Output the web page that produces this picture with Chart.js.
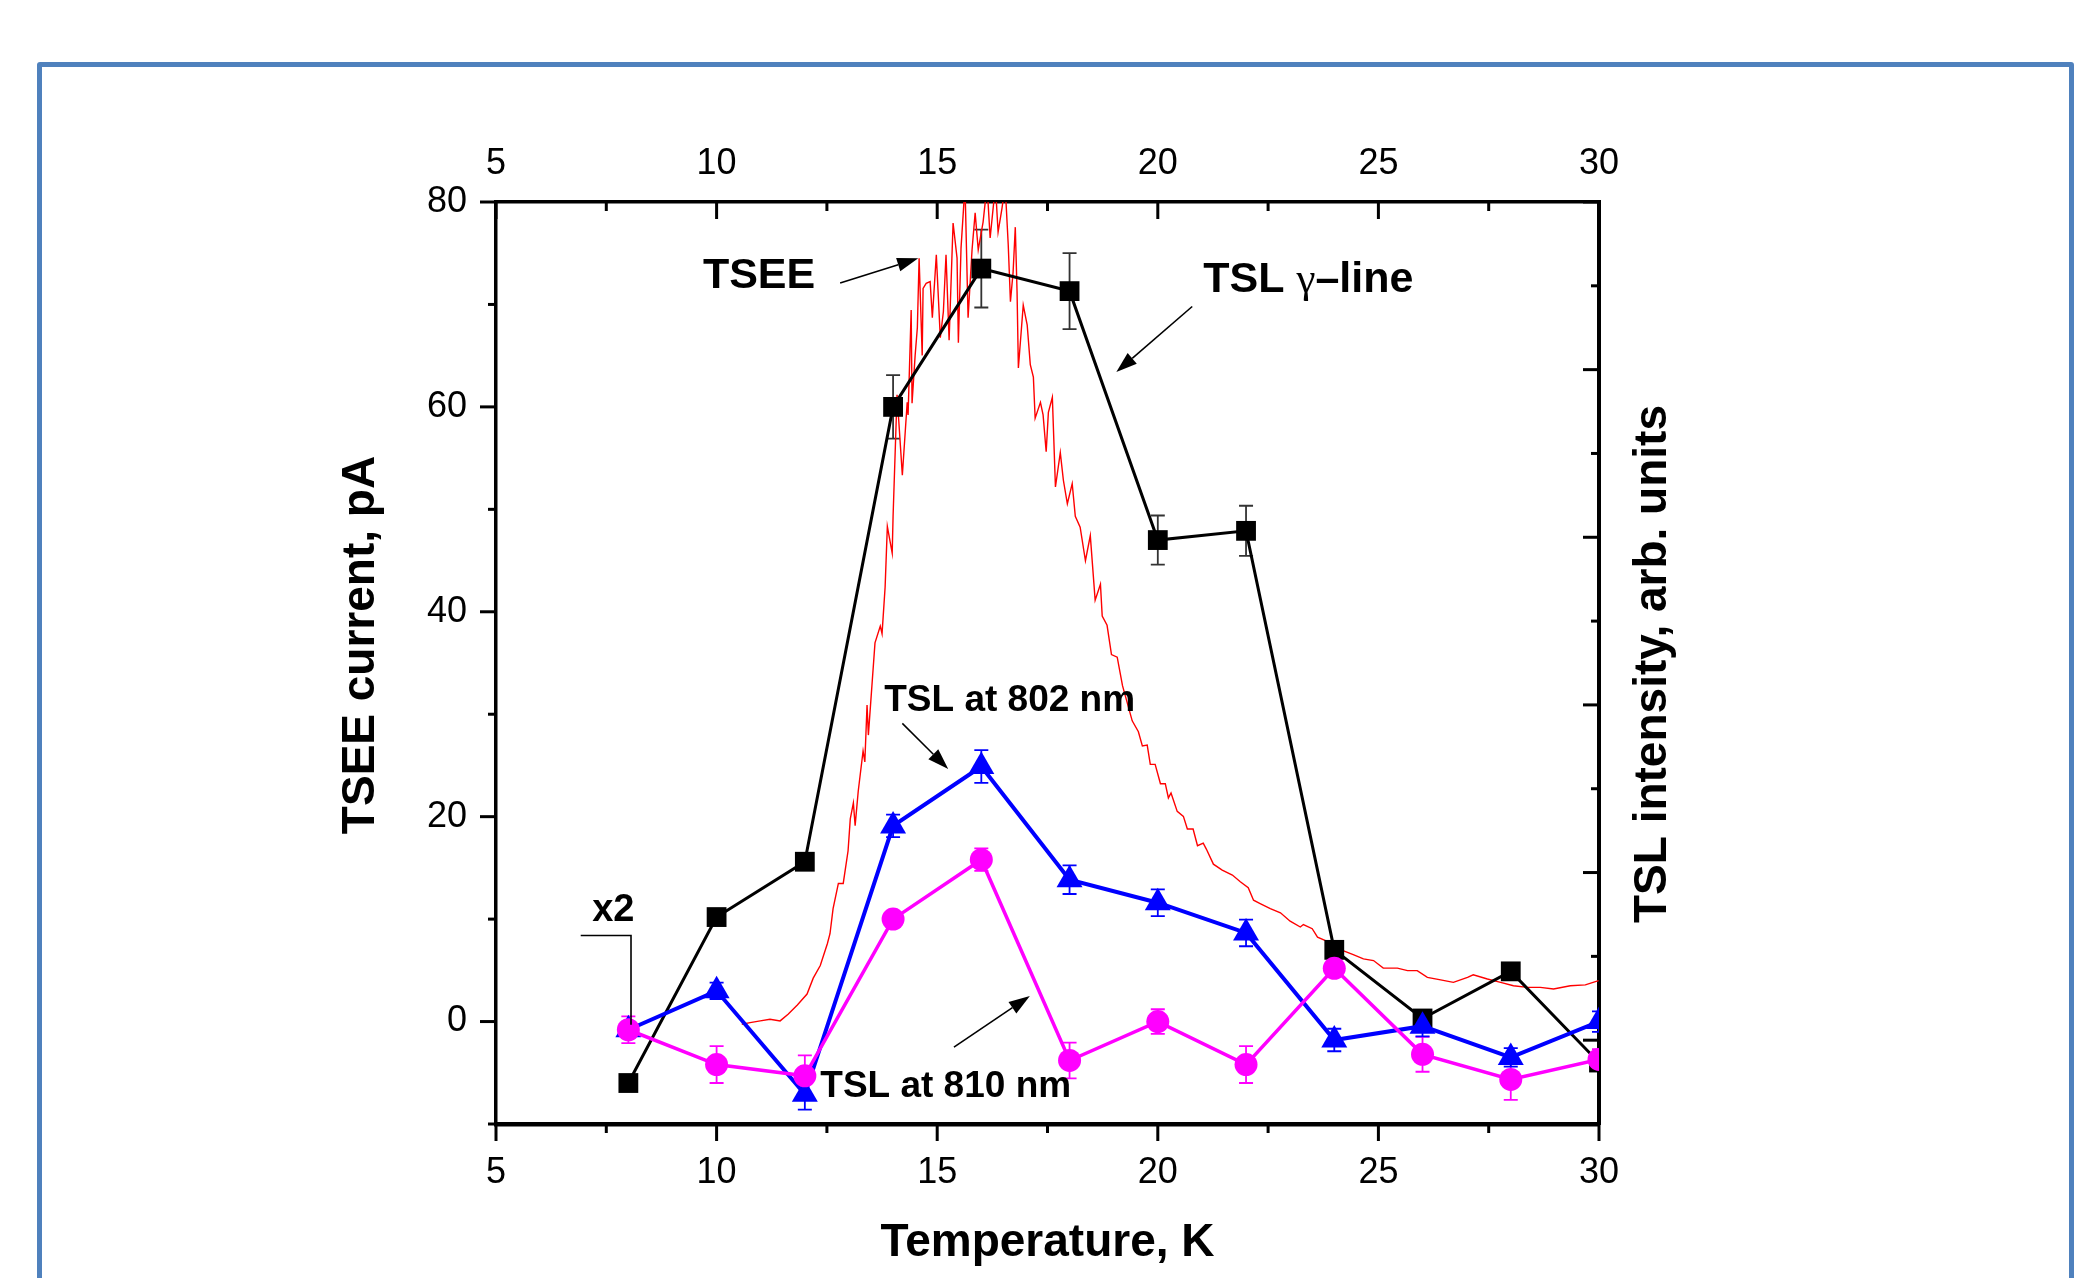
<!DOCTYPE html>
<html>
<head>
<meta charset="utf-8">
<title>TSEE and TSL versus temperature</title>
<script src="https://cdn.jsdelivr.net/npm/chart.js@4.4.1/dist/chart.umd.min.js"></script>
<style>
    html, body { margin: 0; padding: 0; background: #fff; }
    #wrap { position: relative; width: 2079px; height: 1278px; overflow: hidden; }
    #frame { position: absolute; left: 37px; top: 62px; width: 2027px; height: 1400px; border: 5px solid #4f81bd; border-radius: 3px; }
    #chart { position: absolute; left: 0; top: 0; }
</style>
</head>
<body>
<div id="wrap">
    <div id="frame"></div>
    <canvas id="chart" width="2079" height="1278"></canvas>
</div>
<script>
const FONT = '"Liberation Sans", Arial, sans-serif';

// measured points, temperature in K
const TEMPS = [8, 10, 12, 14, 16, 18, 20, 22, 24, 26, 28, 30];
const TSEE = [-6.0, 10.2, 15.6, 60.0, 73.5, 71.3, 47.0, 47.9, 7.0, 0.3, 4.9, -4.0];
const TSEE_ERR = [0, 0, 0, 3.1, 3.8, 3.7, 2.4, 2.45, 0, 0, 0, 0];
const TSL802 = [-0.8, 3.0, -7.1, 19.1, 24.9, 13.85, 11.6, 8.65, -1.8, -0.45, -3.5, 0.0];
const TSL802_ERR = [0.8, 0.8, 1.5, 1.1, 1.6, 1.4, 1.3, 1.3, 1.1, 1.0, 0.9, 1.0];
const TSL810 = [-0.8, -4.2, -5.3, 10.0, 15.8, -3.8, 0.0, -4.2, 5.2, -3.2, -5.65, -3.7];
const TSL810_ERR = [1.3, 1.8, 2.0, 0.5, 1.1, 1.75, 1.2, 1.8, 0.5, 1.7, 2.0, 1.0];

// TSL gamma-line glow curve (right axis, arb. units)
const GAMMA_T = [
    10.57, 10.76, 10.99, 11.21, 11.44, 11.62, 11.83, 12.05, 12.19, 12.35,
    12.51, 12.57, 12.64, 12.76, 12.87, 12.98, 13.03, 13.10, 13.14, 13.21,
    13.32, 13.36, 13.41, 13.44, 13.53, 13.59, 13.71, 13.75, 13.82, 13.87,
    13.98, 14.00, 14.09, 14.21, 14.32, 14.34, 14.41, 14.43, 14.50, 14.55,
    14.59, 14.66, 14.68, 14.75, 14.84, 14.89, 14.98, 15.07, 15.14, 15.20,
    15.27, 15.36, 15.45, 15.48, 15.54, 15.63, 15.70, 15.79, 15.86, 15.93,
    16.04, 16.13, 16.20, 16.32, 16.38, 16.47, 16.54, 16.61, 16.66, 16.72,
    16.77, 16.81, 16.84, 16.95, 17.04, 17.11, 17.18, 17.22, 17.34, 17.40,
    17.47, 17.52, 17.61, 17.68, 17.79, 17.86, 17.95, 18.06, 18.13, 18.24,
    18.36, 18.47, 18.58, 18.70, 18.74, 18.85, 18.95, 19.08, 19.20, 19.42,
    19.56, 19.65, 19.76, 19.83, 19.94, 20.06, 20.17, 20.24, 20.30, 20.44,
    20.58, 20.67, 20.80, 20.90, 21.03, 21.10, 21.26, 21.46, 21.69, 21.87,
    22.05, 22.17, 22.32, 22.55, 22.78, 23.00, 23.23, 23.30, 23.50, 23.62,
    23.84, 24.14, 24.43, 24.66, 24.89, 25.11, 25.43, 25.66, 25.88, 26.11,
    26.41, 26.70, 27.02, 27.15, 27.47, 27.77, 28.06, 28.38, 28.67, 28.97,
    29.35, 29.69, 29.99
];
const GAMMA_I = [
    0.19, 0.21, 0.23, 0.25, 0.23, 0.31, 0.42, 0.55, 0.74, 0.89,
    1.15, 1.27, 1.57, 1.87, 1.87, 2.26, 2.64, 2.83, 2.56, 2.97,
    3.45, 3.32, 4.00, 3.64, 4.30, 4.74, 4.94, 4.85, 5.41, 6.13,
    5.81, 6.25, 7.70, 6.74, 7.61, 7.46, 8.71, 7.60, 8.17, 8.50,
    9.33, 8.17, 8.97, 9.03, 9.05, 8.62, 9.37, 8.38, 8.69, 9.37,
    8.35, 9.75, 9.33, 8.32, 9.45, 10.20, 8.62, 9.43, 9.87, 9.43,
    9.76, 10.20, 9.57, 10.20, 9.64, 9.93, 10.20, 9.49, 8.81, 9.16,
    9.70, 8.93, 8.02, 8.77, 8.53, 8.06, 7.91, 7.42, 7.61, 7.46,
    7.02, 7.49, 7.67, 6.60, 7.01, 6.68, 6.40, 6.64, 6.25, 6.12,
    5.72, 6.02, 5.25, 5.44, 5.06, 4.95, 4.60, 4.57, 4.23, 3.81,
    3.68, 3.51, 3.52, 3.29, 3.29, 3.06, 3.06, 2.89, 2.95, 2.73,
    2.67, 2.52, 2.52, 2.32, 2.35, 2.28, 2.10, 2.03, 1.97, 1.89,
    1.82, 1.67, 1.63, 1.57, 1.52, 1.42, 1.35, 1.38, 1.33, 1.23,
    1.18, 1.08, 1.02, 0.97, 0.95, 0.86, 0.86, 0.83, 0.83, 0.75,
    0.72, 0.69, 0.75, 0.78, 0.73, 0.69, 0.65, 0.63, 0.63, 0.61,
    0.65, 0.66, 0.71
];

// axis ticks
const X_TICKS = [5, 10, 15, 20, 25, 30];
const X_MINOR = [7.5, 12.5, 17.5, 22.5, 27.5];
const Y_TICKS = [0, 20, 40, 60, 80];
const Y_MINOR = [-10, 10, 30, 50, 70];
const Y2_MAJOR = [0, 2, 4, 6, 8, 10];
const Y2_MINOR = [-1, 1, 3, 5, 7, 9];

const toPoints = (xs, ys) => xs.map((x, i) => ({ x: x, y: ys[i] }));

const errorBarPlugin = {
    id: "errorBars",
    beforeDatasetsDraw(chart) {
        const { ctx, chartArea } = chart;
        ctx.save();
        ctx.beginPath();
        ctx.rect(chartArea.left, chartArea.top, chartArea.right - chartArea.left, chartArea.bottom - chartArea.top);
        ctx.clip();
        chart.data.datasets.forEach((ds) => {
            if (!ds.errors) return;
            const xs = chart.scales[ds.xAxisID];
            const ys = chart.scales[ds.yAxisID];
            ctx.strokeStyle = ds.errorColor;
            ctx.lineWidth = 1.8;
            ds.data.forEach((p, i) => {
                const e = ds.errors[i];
                if (!e) return;
                const px = xs.getPixelForValue(p.x);
                const top = ys.getPixelForValue(p.y + e);
                const bot = ys.getPixelForValue(p.y - e);
                ctx.beginPath();
                ctx.moveTo(px, top); ctx.lineTo(px, bot);
                ctx.moveTo(px - 7, top); ctx.lineTo(px + 7, top);
                ctx.moveTo(px - 7, bot); ctx.lineTo(px + 7, bot);
                ctx.stroke();
            });
        });
        ctx.restore();
    }
};

function tickMarks(ctx, scale, values, len, side, area) {
    values.forEach((v) => {
        const p = scale.getPixelForValue(v);
        ctx.beginPath();
        if (side === "bottom") { ctx.moveTo(p, area.bottom); ctx.lineTo(p, area.bottom + len); }
        if (side === "top") { ctx.moveTo(p, area.top); ctx.lineTo(p, area.top + len); }
        if (side === "left") { ctx.moveTo(area.left, p); ctx.lineTo(area.left - len, p); }
        if (side === "right") { ctx.moveTo(area.right, p); ctx.lineTo(area.right - len, p); }
        ctx.stroke();
    });
}

function arrow(ctx, x0, y0, x1, y1) {
    const a = Math.atan2(y1 - y0, x1 - x0);
    const hl = 21, hw = 7;
    const bx = x1 - hl * Math.cos(a), by = y1 - hl * Math.sin(a);
    ctx.beginPath();
    ctx.moveTo(x0, y0); ctx.lineTo(bx, by);
    ctx.stroke();
    ctx.beginPath();
    ctx.moveTo(x1, y1);
    ctx.lineTo(bx + hw * Math.sin(a), by - hw * Math.cos(a));
    ctx.lineTo(bx - hw * Math.sin(a), by + hw * Math.cos(a));
    ctx.closePath();
    ctx.fill();
}

const decorPlugin = {
    id: "decor",
    afterDraw(chart) {
        const { ctx, chartArea: area, scales } = chart;
        const X = v => scales.x.getPixelForValue(v);
        const Y = v => scales.y.getPixelForValue(v);

        ctx.save();
        ctx.strokeStyle = "#000";
        ctx.fillStyle = "#000";
        ctx.lineWidth = 3;
        tickMarks(ctx, scales.x, X_TICKS, 17, "bottom", area);
        tickMarks(ctx, scales.x, X_MINOR, 9, "bottom", area);
        tickMarks(ctx, scales.xTop, X_TICKS, 17, "top", area);
        tickMarks(ctx, scales.xTop, X_MINOR, 9, "top", area);
        tickMarks(ctx, scales.y, Y_TICKS, 16, "left", area);
        tickMarks(ctx, scales.y, Y_MINOR, 8, "left", area);
        tickMarks(ctx, scales.y2, Y2_MAJOR, 16, "right", area);
        tickMarks(ctx, scales.y2, Y2_MINOR, 8, "right", area);

        // axis titles
        ctx.font = "bold 46px " + FONT;
        ctx.textAlign = "center";
        ctx.textBaseline = "middle";
        ctx.save();
        ctx.translate(area.left - 135, 645);
        ctx.rotate(-Math.PI / 2);
        ctx.fillText("TSEE current, pA", 0, 0);
        ctx.restore();
        ctx.save();
        ctx.translate(area.right + 54, 664);
        ctx.rotate(-Math.PI / 2);
        ctx.fillText("TSL intensity, arb. units", 0, 0);
        ctx.restore();
        ctx.textBaseline = "alphabetic";
        ctx.fillText("Temperature, K", (area.left + area.right) / 2, area.bottom + 132);

        // labels inside the plot
        ctx.textAlign = "left";
        ctx.font = "bold 43px " + FONT;
        ctx.fillText("TSEE", X(9.69), Y(71.6));

        let gx = X(21.03);
        const gy = Y(71.2);
        ctx.fillText("TSL ", gx, gy);
        gx += ctx.measureText("TSL ").width;
        ctx.font = "43px \"Liberation Serif\", serif";
        ctx.fillText("\u03B3", gx, gy);
        gx += ctx.measureText("\u03B3").width;
        ctx.font = "bold 43px " + FONT;
        ctx.fillText("\u2013line", gx, gy);

        ctx.font = "bold 37px " + FONT;
        ctx.fillText("TSL at 802 nm", X(13.80), Y(30.3));
        ctx.fillText("TSL at 810 nm", X(12.35), Y(-7.4));
        ctx.font = "bold 38px " + FONT;
        ctx.fillText("x2", X(7.18), Y(9.8));

        ctx.lineWidth = 1.6;
        arrow(ctx, X(12.80), Y(72.1), X(14.57), Y(74.5));
        arrow(ctx, X(20.78), Y(69.8), X(19.06), Y(63.4));
        arrow(ctx, X(14.21), Y(29.1), X(15.25), Y(24.65));
        arrow(ctx, X(15.38), Y(-2.5), X(17.10), Y(2.5));

        // x2 bracket
        ctx.beginPath();
        ctx.moveTo(X(6.92), Y(8.4));
        ctx.lineTo(X(8.06), Y(8.4));
        ctx.lineTo(X(8.06), Y(-0.3));
        ctx.stroke();
        ctx.restore();
    }
};

const tickFont = { family: FONT, size: 36 };

new Chart(document.getElementById("chart"), {
    type: "line",
    data: {
        datasets: [
            {
                label: "TSL at 810 nm",
                data: toPoints(TEMPS, TSL810),
                errors: TSL810_ERR,
                errorColor: "#ff00ff",
                borderColor: "#ff00ff",
                backgroundColor: "#ff00ff",
                borderWidth: 3.5,
                pointStyle: "circle",
                pointRadius: 11.5,
                pointBorderWidth: 0,
                order: 0,
                xAxisID: "x",
                yAxisID: "y"
            },
            {
                label: "TSL at 802 nm",
                data: toPoints(TEMPS, TSL802),
                errors: TSL802_ERR,
                errorColor: "#0000ff",
                borderColor: "#0000ff",
                backgroundColor: "#0000ff",
                borderWidth: 4,
                pointStyle: "triangle",
                pointRadius: 15,
                pointBorderWidth: 0,
                order: 1,
                xAxisID: "x",
                yAxisID: "y"
            },
            {
                label: "TSEE",
                data: toPoints(TEMPS, TSEE),
                errors: TSEE_ERR,
                errorColor: "#333333",
                borderColor: "#000000",
                backgroundColor: "#000000",
                borderWidth: 3,
                pointStyle: "rect",
                pointRadius: 14,
                pointBorderWidth: 0,
                order: 2,
                xAxisID: "x",
                yAxisID: "y"
            },
            {
                label: "TSL gamma-line",
                data: toPoints(GAMMA_T, GAMMA_I),
                borderColor: "#ff0000",
                borderWidth: 1.4,
                pointRadius: 0,
                order: 3,
                xAxisID: "x",
                yAxisID: "y2"
            }
        ]
    },
    options: {
        responsive: false,
        devicePixelRatio: 1,
        animation: false,
        events: [],
        layout: { padding: 0 },
        elements: { line: { tension: 0 } },
        plugins: {
            legend: { display: false },
            tooltip: { enabled: false }
        },
        scales: {
            x: {
                type: "linear",
                position: "bottom",
                min: 5,
                max: 30,
                afterBuildTicks: (s) => { s.ticks = X_TICKS.map(v => ({ value: v })); },
                afterFit: (s) => { s.height = 154; },
                grid: { display: true, drawOnChartArea: false, drawTicks: false },
                border: { display: true, color: "#000", width: 4.5 },
                ticks: { color: "#000", font: tickFont, padding: 27, maxRotation: 0 }
            },
            xTop: {
                type: "linear",
                position: "top",
                display: true,
                min: 5,
                max: 30,
                afterBuildTicks: (s) => { s.ticks = X_TICKS.map(v => ({ value: v })); },
                afterFit: (s) => { s.height = 202; },
                grid: { display: true, drawOnChartArea: false, drawTicks: false },
                border: { display: true, color: "#000", width: 3.5 },
                ticks: { color: "#000", font: tickFont, padding: 16, maxRotation: 0 }
            },
            y: {
                type: "linear",
                position: "left",
                min: -10,
                max: 80,
                afterBuildTicks: (s) => { s.ticks = Y_TICKS.map(v => ({ value: v })); },
                afterFit: (s) => { s.width = 496; },
                grid: { display: true, drawOnChartArea: false, drawTicks: false },
                border: { display: true, color: "#000", width: 3.5 },
                ticks: { color: "#000", font: tickFont, padding: 29 }
            },
            y2: {
                type: "linear",
                position: "right",
                display: true,
                min: -1,
                max: 10,
                afterFit: (s) => { s.width = 480; },
                grid: { display: true, drawOnChartArea: false, drawTicks: false },
                border: { display: true, color: "#000", width: 4 },
                ticks: { display: false }
            }
        }
    },
    plugins: [errorBarPlugin, decorPlugin]
});
</script>
</body>
</html>
